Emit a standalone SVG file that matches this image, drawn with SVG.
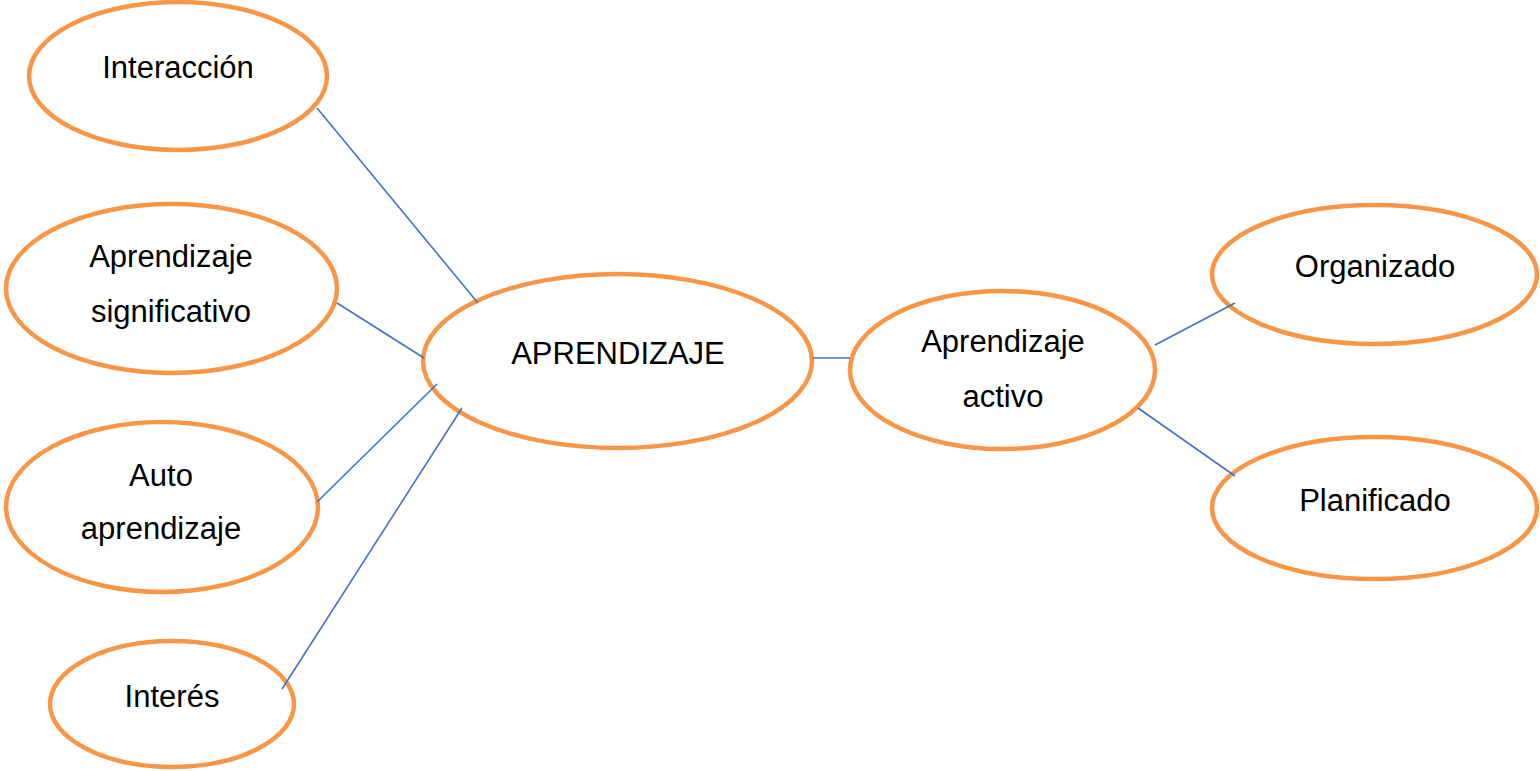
<svg xmlns="http://www.w3.org/2000/svg" width="1540" height="771" viewBox="0 0 1540 771">
<style>
.n{fill:#ffffff;stroke:#F79646;stroke-width:4.5}
.t{font-family:"Liberation Sans",Arial,sans-serif;font-size:31px;fill:#000;text-anchor:middle}
.c{stroke:#4472C4;stroke-width:1.6;fill:none}
</style>
<rect width="1540" height="771" fill="#ffffff"/>
<g id="interaccion">
<ellipse class="n" cx="178" cy="76" rx="149" ry="74"/>
<text class="t" x="178" y="78">Interacción</text>
</g>
<g id="aprendizaje-significativo">
<ellipse class="n" cx="171.5" cy="288.5" rx="165.5" ry="84.5"/>
<text class="t" x="171" y="267">Aprendizaje</text>
<text class="t" x="171" y="322">significativo</text>
</g>
<g id="auto-aprendizaje">
<ellipse class="n" cx="162" cy="507" rx="156" ry="85"/>
<text class="t" x="161" y="486">Auto</text>
<text class="t" x="161" y="539">aprendizaje</text>
</g>
<g id="interes">
<ellipse class="n" cx="172" cy="704" rx="122" ry="63"/>
<text class="t" x="172" y="707">Interés</text>
</g>
<g id="aprendizaje">
<ellipse class="n" cx="617.5" cy="361" rx="194.5" ry="87"/>
<text class="t" x="618" y="364">APRENDIZAJE</text>
</g>
<g id="aprendizaje-activo">
<ellipse class="n" cx="1002.5" cy="370" rx="152.5" ry="79"/>
<text class="t" x="1003" y="352">Aprendizaje</text>
<text class="t" x="1003" y="407">activo</text>
</g>
<g id="organizado">
<ellipse class="n" cx="1374.5" cy="274.5" rx="162.5" ry="69.5"/>
<text class="t" x="1375" y="277">Organizado</text>
</g>
<g id="planificado">
<ellipse class="n" cx="1374.5" cy="508" rx="162.5" ry="71"/>
<text class="t" x="1375" y="511">Planificado</text>
</g>
<g id="connectors">
<line class="c" x1="317" y1="108" x2="478" y2="303"/>
<line class="c" x1="337" y1="303" x2="424" y2="358"/>
<line class="c" x1="317" y1="502" x2="437" y2="384"/>
<line class="c" x1="282" y1="689" x2="462" y2="408"/>
<line class="c" x1="813" y1="358" x2="850" y2="358"/>
<line class="c" x1="1155" y1="345" x2="1235" y2="303"/>
<line class="c" x1="1138" y1="408" x2="1235" y2="476"/>
</g>
</svg>
